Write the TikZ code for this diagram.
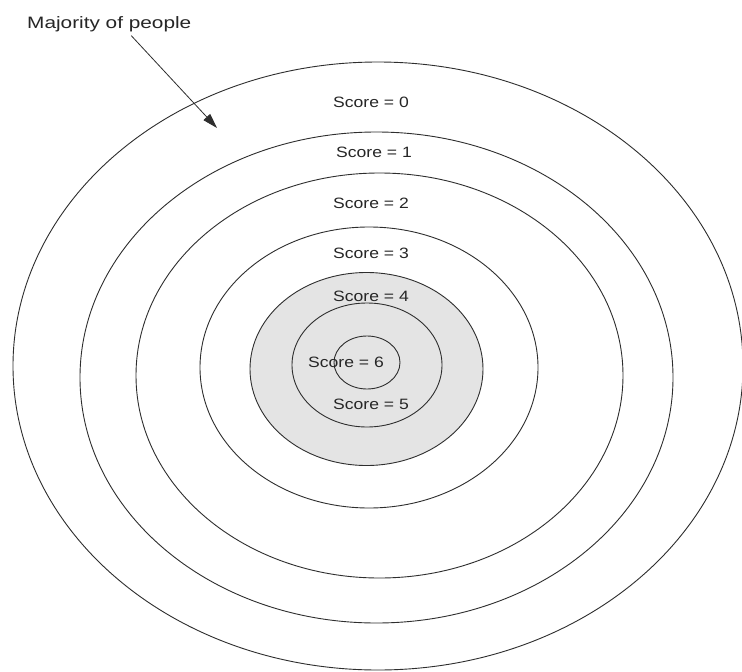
\documentclass[tikz,border=0pt]{standalone}
\usepackage{fontspec}
\setmainfont{Liberation Sans}
\usetikzlibrary{arrows.meta}
\definecolor{ringline}{HTML}{2E2E2E}
\definecolor{ringfill}{HTML}{E4E4E4}
\definecolor{txt}{HTML}{262626}
\tikzset{
  ring/.style={draw=ringline, line width=0.9pt},
  shaded/.style={ring, fill=ringfill},
  lbl/.style={inner sep=0pt, text=txt, font=\fontsize{15}{15}\selectfont},
  arr/.style={draw=ringline, line width=0.8pt, -{Triangle[length=15pt,width=9pt]}}
}
\newcommand{\wide}[2]{\scalebox{#1}[1]{#2}}
\begin{document}
\begin{tikzpicture}[x=1pt,y=-1pt]
\useasboundingbox (0,0) rectangle (742,672);
\fill[white] (0,0) rectangle (742,672);
% rings
\draw[ring] (378,366) ellipse [x radius=365, y radius=304];
\draw[ring] (376.5,377.5) ellipse [x radius=296.5, y radius=245.5];
\draw[ring] (379.5,375.5) ellipse [x radius=243.5, y radius=202.5];
\draw[ring] (369,367.5) ellipse [x radius=169, y radius=140.5];
\draw[shaded] (366.5,369) ellipse [x radius=116.5, y radius=96.5];
\draw[shaded] (367,365) ellipse [x radius=75, y radius=62];
\draw[shaded] (367,362.5) ellipse [x radius=33, y radius=26.5];
% labels
\node[lbl] (s0) at (371,102) {\wide{1.17}{Score = 0}};
\node[lbl] (s1) at (374,152) {\wide{1.17}{Score = 1}};
\node[lbl] (s2) at (371,203) {\wide{1.17}{Score = 2}};
\node[lbl] (s3) at (371,253) {\wide{1.17}{Score = 3}};
\node[lbl] (s4) at (371,296) {\wide{1.17}{Score = 4}};
\node[lbl] (s6) at (346,362) {\wide{1.17}{Score = 6}};
\node[lbl] (s5) at (371,404) {\wide{1.17}{Score = 5}};
% annotation
\node[lbl, font=\fontsize{16.5}{16.5}\selectfont, anchor=base west] (maj) at (27,28) {\wide{1.26}{Majority of people}};
\coordinate (tip) at (217,128);
\draw[arr] ([xshift=22pt,yshift=-4pt]maj.south) -- (tip);
\end{tikzpicture}
\end{document}
